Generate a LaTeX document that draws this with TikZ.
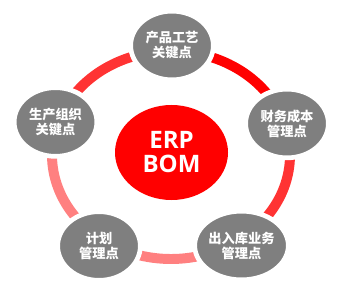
\documentclass[tikz,border=0pt]{standalone}
\usepackage{fontspec}
\usepackage{tikz}
\usetikzlibrary{shapes.geometric}
\newfontfamily\cjkfont{Noto Sans CJK SC}
\newfontfamily\latinfont{Open Sans}
\definecolor{BOMred}{HTML}{FF0000}
\definecolor{BOMmid}{HTML}{FF3333}
\definecolor{BOMpale}{HTML}{FF8080}
\definecolor{BOMgray}{HTML}{7F7F7F}
\tikzset{
  bom/hub/.style={ellipse, fill=BOMred, inner sep=0pt, minimum width=3.39cm, minimum height=2.85cm, align=center, text=white, font=\latinfont\bfseries\fontsize{20.5}{20.5}\selectfont},
  bom/point/.style={ellipse, fill=BOMgray, draw=white, line width=4pt, inner sep=0pt, minimum width=2.48cm, minimum height=2.06cm, align=center, text=white, font=\cjkfont\bfseries\fontsize{11.3}{12.8}\selectfont},
  bom/ring/.style={line width=8.5pt}
}

\begin{document}
\begin{tikzpicture}[x=0.03cm,y=0.03cm]
\useasboundingbox (0,0) rectangle (343,302);
% ring segments
\begin{scope}[shift={(171,147)}]
\draw[bom/ring, BOMmid] (90:119 and 104) arc[start angle=90, end angle=162, x radius=119, y radius=104];
\draw[bom/ring, BOMred] (18:119 and 104) arc[start angle=18, end angle=90, x radius=119, y radius=104];
\draw[bom/ring, BOMmid] (-54:119 and 104) arc[start angle=-54, end angle=18, x radius=119, y radius=104];
\draw[bom/ring, BOMpale] (-126:119 and 104) arc[start angle=-126, end angle=-54, x radius=119, y radius=104];
\draw[bom/ring, BOMpale] (162:119 and 104) arc[start angle=162, end angle=234, x radius=119, y radius=104];
\end{scope}
% hub and points
\node[bom/hub] (hub) at (171.5,149.5) {ERP\\BOM};
\node[bom/point] (craft) at (172,256.5) {产品工艺\\关键点};
\node[bom/point] (cost) at (287,178.5) {财务成本\\管理点};
\node[bom/point] (stock) at (241.5,56.5) {出入库业务\\管理点};
\node[bom/point] (plan) at (99,56) {计划\\管理点};
\node[bom/point] (prod) at (55.5,180) {生产组织\\关键点};
\end{tikzpicture}
\end{document}
